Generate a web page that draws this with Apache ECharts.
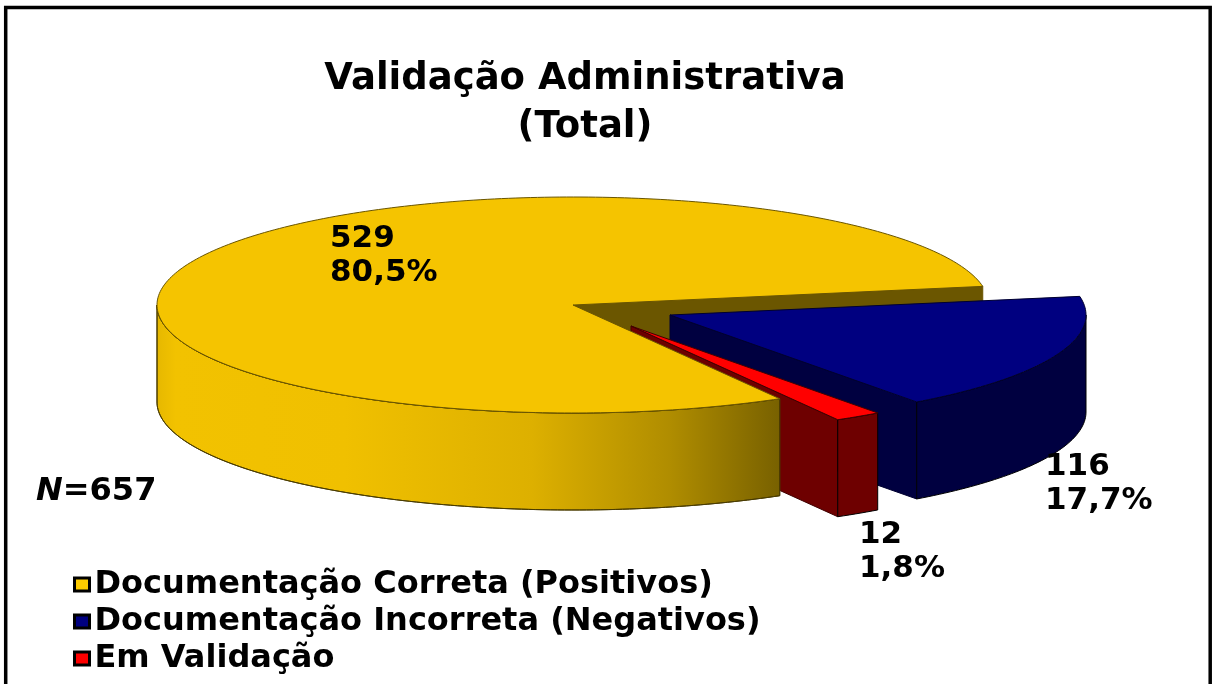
<!DOCTYPE html>
<html><head><meta charset="utf-8">
<style>html,body{margin:0;padding:0;background:#fff;overflow:hidden}#c{width:1213px;height:684px}</style>
<script src="https://cdn.jsdelivr.net/npm/echarts@6/dist/echarts.min.js"></script>
</head><body><div id="c"></div>
<script>
var categories = ['Documentação Correta (Positivos)', 'Documentação Incorreta (Negativos)', 'Em Validação'];
var values = [529, 116, 12];
var percentLabels = ['80,5%', '17,7%', '1,8%'];
var titleLines = ['Validação Administrativa', '(Total)'];

var FONT = '"DejaVu Sans", Verdana, sans-serif';
var cx = 573, cy = 305, rx = 416, ry = 108, depth = 97;
var startDeg = 60.2;           // yellow starts here, clockwise on screen
var explode = [[0, 0], [97, 10], [58, 21]];
var topColor = ['#F5C400', '#000080', '#FF0000'];
var legendColor = ['#FFCC00', '#000080', '#FF0000'];
var wallColor = ['#6B5600', '#000040', '#6E0000'];
var edgeColor = ['#6a5500', '#000030', '#400000'];
var labelPos = [[330, 222], [1045, 450], [859, 518]];
var order = [[1, 5, 6], [2, 2, 3], [4, 4, 7]]; // z2 of radial wall, outer wall, top
var total = values.reduce(function (a, b) { return a + b; }, 0);

function sliceAngles(i) {
  var a = startDeg;
  for (var k = 0; k < i; k++) a += values[k] / total * 360;
  return [a, a + values[i] / total * 360];
}
function pt(t, ox, oy, d) {
  var r = t * Math.PI / 180;
  return [cx + ox + rx * Math.cos(r), cy + oy + ry * Math.sin(r) + (d || 0)];
}
function arc(a, b, ox, oy, d) {
  var out = [], n = Math.max(2, Math.ceil(Math.abs(b - a)));
  for (var i = 0; i <= n; i++) out.push(pt(a + (b - a) * i / n, ox, oy, d));
  return out;
}
var yellowWall = { type: 'linear', x: 157, y: 0, x2: 782, y2: 0, global: true, colorStops: [
  { offset: 0, color: '#E6B800' }, { offset: 0.03, color: '#F2C200' }, { offset: 0.3, color: '#F0C000' },
  { offset: 0.6, color: '#DDB000' }, { offset: 0.82, color: '#B08D00' }, { offset: 1, color: '#776000' } ] };

function renderSlice(i) {
  return function () {
    var ang = sliceAngles(i), s = ang[0], e = ang[1];
    var ox = explode[i][0], oy = explode[i][1], z = order[i], children = [];
    var c0 = [cx + ox, cy + oy], c1 = [cx + ox, cy + oy + depth];
    var pe = pt(e, ox, oy), pe1 = pt(e, ox, oy, depth);
    // radial wall at the clockwise end of the slice
    children.push({ type: 'polygon', z2: z[0], shape: { points: [c0, pe, pe1, c1] },
      style: { fill: wallColor[i], stroke: edgeColor[i], lineWidth: 1 } });
    // outer rim: only the part facing the viewer (0..180, also 360..540)
    [[0, 180], [360, 540]].forEach(function (w) {
      var a = Math.max(s, w[0]), b = Math.min(e, w[1]);
      if (b > a) {
        var pts = arc(a, b, ox, oy, 0).concat(arc(b, a, ox, oy, depth));
        children.push({ type: 'polygon', z2: z[1], shape: { points: pts },
          style: { fill: i === 0 ? yellowWall : wallColor[i], stroke: i === 0 ? '#4a3c00' : '#000000', lineWidth: 1 } });
      }
    });
    // top face
    children.push({ type: 'polygon', z2: z[2], shape: { points: [c0].concat(arc(s, e, ox, oy, 0)) },
      style: { fill: topColor[i], stroke: edgeColor[i], lineWidth: 1 } });
    // label
    children.push({ type: 'text', z2: 20, style: { x: labelPos[i][0], y: labelPos[i][1],
      text: values[i] + '\n' + percentLabels[i], fill: '#000', font: 'bold 31px ' + FONT, lineHeight: 34,
      textAlign: 'left', textVerticalAlign: 'top' } });
    return { type: 'group', children: children };
  };
}

var chart = echarts.init(document.getElementById('c'), null, { renderer: 'canvas' });
chart.setOption({
  animation: false,
  backgroundColor: '#fff',
  title: { text: titleLines.join('\n'), left: 585, top: 50, textAlign: 'center',
    textStyle: { fontFamily: FONT, fontWeight: 'bold', fontSize: 37, lineHeight: 48, color: '#000' } },
  legend: { data: categories, orient: 'vertical', left: 68, top: 563, icon: 'rect',
    itemWidth: 15, itemHeight: 13, itemGap: 4,
    itemStyle: { borderColor: '#000', borderWidth: 3 },
    textStyle: { fontFamily: FONT, fontWeight: 'bold', fontSize: 32, lineHeight: 33, color: '#000' },
    selectedMode: false },
  graphic: [
    { type: 'rect', silent: true, shape: { x: 5.7, y: 7.6, width: 1204.5, height: 700 },
      style: { fill: 'none', stroke: '#000', lineWidth: 3.5 } },
    { type: 'text', silent: true, style: { x: 36, y: 476, text: '{i|N}{b|=' + total + '}',
      rich: { i: { font: 'italic bold 32px ' + FONT, fill: '#000' }, b: { font: 'bold 32px ' + FONT, fill: '#000' } } } }
  ],
  series: categories.map(function (name, i) {
    return { type: 'custom', name: name, coordinateSystem: 'none', silent: true,
      itemStyle: { color: legendColor[i] }, data: [[values[i]]], renderItem: renderSlice(i) };
  })
});
// title is centred on its left anchor
chart.setOption({ title: { left: 580 } });
</script></body></html>
